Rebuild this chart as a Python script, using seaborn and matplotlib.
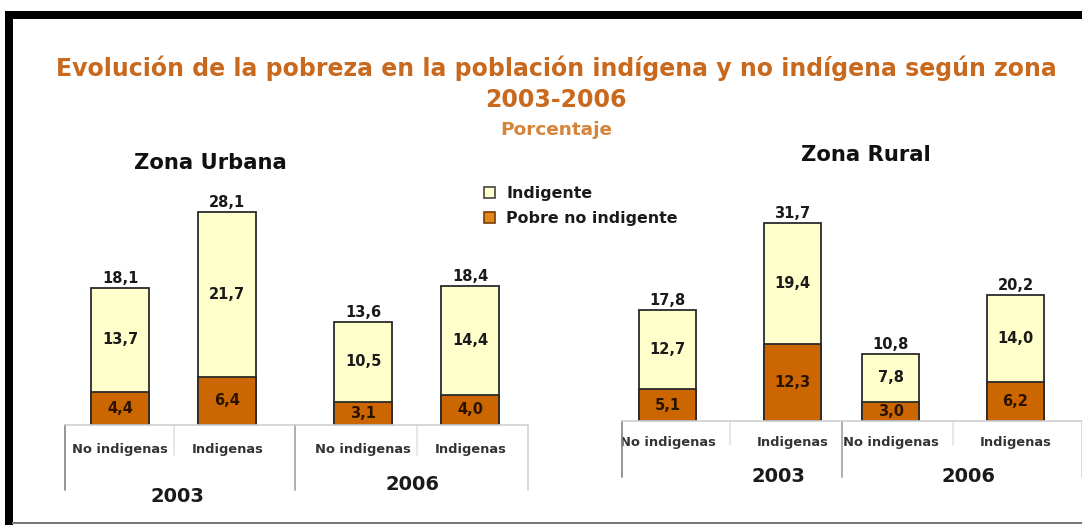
import matplotlib
matplotlib.use("Agg")
import matplotlib.pyplot as plt
import matplotlib.transforms as mtransforms
from matplotlib.patches import Patch, Rectangle
import pandas as pd
import seaborn as sns

# ---- data -------------------------------------------------------------
anios = ["2003", "2003", "2006", "2006"]
grupos = ["No indigenas", "Indigenas", "No indigenas", "Indigenas"]

urbana_indigente = [13.7, 21.7, 10.5, 14.4]
urbana_pobre = [4.4, 6.4, 3.1, 4.0]
urbana_total = [18.1, 28.1, 13.6, 18.4]

rural_indigente = [12.7, 19.4, 7.8, 14.0]
rural_pobre = [5.1, 12.3, 3.0, 6.2]
rural_total = [17.8, 31.7, 10.8, 20.2]

serie_labels = ["Indigente", "Pobre no indigente"]

# ---- style ------------------------------------------------------------
sns.set_theme(style="white")
plt.rcParams["font.family"] = ["DejaVu Sans"]

CLARO = "#FFFFCC"
OSCURO = "#CC6600"
BORDE = "#2b2b2b"
NARANJA = "#C8691E"

fig = plt.figure(figsize=(10.82, 5.25), dpi=100)
W, H = 1082, 525


def fmt(v):
    return f"{v:.1f}".replace(".", ",")


def panel(rect, xlim, total, indig, pobre, width, gap, ymax, tick_pad,
          year_dy, tall_len, short_len, year_dx):
    ax = fig.add_axes(rect)
    df = pd.DataFrame({"anio": anios, "grupo": grupos, "total": total,
                       "indigente": indig, "pobre": pobre})
    common = dict(data=df, x="anio", hue="grupo",
                  hue_order=["No indigenas", "Indigenas"], width=width,
                  gap=gap, edgecolor=BORDE, linewidth=1.3, legend=False,
                  ax=ax, errorbar=None, saturation=1)
    sns.barplot(y="total", palette=[CLARO, CLARO], **common)
    sns.barplot(y="pobre", palette=[OSCURO, OSCURO], **common)
    bars = list(ax.patches)
    light = sorted(bars[:4], key=lambda p: p.get_x())

    centers = [p.get_x() + p.get_width() / 2 for p in light]
    for cx, t, i, b in zip(centers, total, indig, pobre):
        ax.annotate(fmt(t), (cx, t), xytext=(0, 1.5), textcoords="offset points",
                    ha="center", va="bottom", fontsize=10.5, fontweight="bold",
                    color="#1a1a1a")
        ax.text(cx, b + i / 2, fmt(i), ha="center", va="center",
                fontsize=10.5, fontweight="bold", color="#1a1a1a")
        ax.text(cx, b / 2, fmt(b), ha="center", va="center",
                fontsize=10.5, fontweight="bold", color="#2a1400")

    ax.set_ylim(0, ymax)
    ax.set_xlim(*xlim)
    for s in ["top", "left", "right"]:
        ax.spines[s].set_visible(False)
    ax.spines["bottom"].set_color("#cfcfcf")
    ax.spines["bottom"].set_linewidth(1.2)
    ax.set_yticks([])
    ax.set_xlabel("")
    ax.set_ylabel("")

    # category labels under each bar
    ax.set_xticks(centers, labels=grupos)
    ax.tick_params(axis="x", length=0, pad=tick_pad, labelsize=9.4,
                   labelcolor="#333333")
    for lab in ax.get_xticklabels():
        lab.set_fontweight("bold")

    # separators below the axis
    trans = mtransforms.blended_transform_factory(ax.transData, ax.transAxes)
    x0, x1 = ax.get_xlim()
    ymin_tall = -tall_len / ax.bbox.height
    ymin_short = -short_len / ax.bbox.height
    for x, c in [(x0, "#8c8c8c"), (0.5, "#a8a8a8"), (x1, "#d6d6d6")]:
        ax.plot([x, x], [0, ymin_tall], transform=trans, color=c, lw=1.3,
                clip_on=False)
    for x in [0, 1]:
        ax.plot([x, x], [0, ymin_short], transform=trans, color="#e2e2e2",
                lw=1.1, clip_on=False)

    # year labels under each group
    for k, (anio, dy, dx) in enumerate(zip(["2003", "2006"], year_dy, year_dx)):
        t = mtransforms.offset_copy(trans, fig=fig, x=dx, y=-dy, units="dots")
        ax.text(k, 0, anio, transform=t, ha="center", va="center",
                fontsize=14, fontweight="bold", color="#1a1a1a")
    return ax


# urban panel: baseline at y=425 px, 7.57 px per unit
urb_ymax = 36
panel([65 / W, (H - 425) / H, 463 / W, urb_ymax * 7.57 / H],
      (-0.4475, 1.4575), urbana_total, urbana_indigente, urbana_pobre,
      width=0.88, gap=0.46, ymax=urb_ymax, tick_pad=13, year_dy=[72, 60],
      tall_len=65, short_len=30, year_dx=[4, -4])

# rural panel: baseline at y=421 px, 6.24 px per unit
rur_ymax = 42
panel([622 / W, (H - 421) / H, 460 / W, rur_ymax * 6.24 / H],
      (-0.484, 1.578), rural_total, rural_indigente, rural_pobre,
      width=1.12, gap=0.54, ymax=rur_ymax, tick_pad=11, year_dy=[56, 55],
      tall_len=56, short_len=24, year_dx=[48, 15])

# ---- titles -----------------------------------------------------------
fig.text(556 / W, 1 - 68 / H,
         "Evolución de la pobreza en la población indígena y no indígena según zona",
         ha="center", va="center", fontsize=17, fontweight="bold", color=NARANJA)
fig.text(556 / W, 1 - 100 / H, "2003-2006", ha="center", va="center",
         fontsize=17, fontweight="bold", color=NARANJA)
fig.text(556 / W, 1 - 130 / H, "Porcentaje", ha="center", va="center",
         fontsize=13.3, fontweight="bold", color="#D6843A")
fig.text(210 / W, 1 - 163 / H, "Zona Urbana", ha="center", va="center",
         fontsize=15.2, fontweight="bold", color="#111111")
fig.text(866 / W, 1 - 155 / H, "Zona Rural", ha="center", va="center",
         fontsize=15.2, fontweight="bold", color="#111111")

# ---- legend -----------------------------------------------------------
handles = [Patch(facecolor=CLARO, edgecolor="#444444", linewidth=1.2),
           Patch(facecolor="#E08A1E", edgecolor="#7a3c00", linewidth=1.2)]
fig.legend(handles, serie_labels, loc="upper left",
           bbox_to_anchor=(470 / W, 1 - 172 / H), frameon=False,
           handlelength=0.7, handleheight=0.7, handletextpad=0.7,
           labelspacing=0.6, prop={"size": 11.4, "weight": "bold"},
           labelcolor="#1a1a1a")

# ---- frame ------------------------------------------------------------
fig.add_artist(Rectangle((5 / W, 1 - 19 / H), 1 - 5 / W, 8 / H,
                         transform=fig.transFigure, facecolor="black",
                         edgecolor="none"))
fig.add_artist(Rectangle((5 / W, 0), 7.5 / W, 1 - 12 / H,
                         transform=fig.transFigure, facecolor="black",
                         edgecolor="none"))
fig.add_artist(Rectangle((12 / W, 1.5 / H), 1 - 12 / W, 1.5 / H,
                         transform=fig.transFigure, facecolor="#777777",
                         edgecolor="none"))

fig.savefig("out.png", dpi=100)
